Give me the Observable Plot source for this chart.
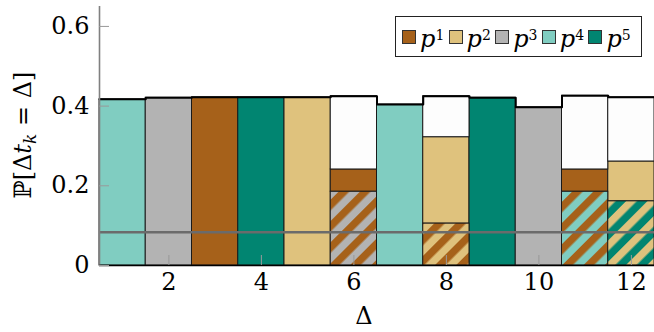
<!DOCTYPE html>
<html>
<head>
<meta charset="utf-8">
<script src="https://cdn.jsdelivr.net/npm/d3@7"></script>
<script src="https://cdn.jsdelivr.net/npm/@observablehq/plot@0.6"></script>
<style>
  body { margin: 0; background: #fff; }
  #wrap { position: relative; width: 654px; height: 332px; font-family: 'DejaVu Serif', serif; }
  #wrap svg { position: absolute; left: 0; top: 0; }
  #wrap svg text, #wrap svg tspan { font-family: 'DejaVu Serif', serif; }
  #legend { position: absolute; left: 395px; top: 16px; width: 247px; height: 41px; box-sizing: border-box;
            border: 1px solid #222; background: #fff; display: flex; align-items: center; padding-left: 6px; }
  .item { display: flex; align-items: center; width: 46.6px; flex: none; }
  .sw { width: 12px; height: 12px; border: 1px solid #333; margin-right: 4px; flex: none; }
  .lab { font-size: 24px; line-height: 26px; height: 26px; white-space: nowrap; position: relative; top: -2px;
         font-family: 'DejaVu Serif', serif; }
  .lab i { font-style: italic; }
  .lab span { font-size: 14px; vertical-align: 7px; }
</style>
</head>
<body>
<div id="wrap"><div id="legend"></div></div>
<script>
// ---- data ----
const delta = [1, 2, 3, 4, 5, 6, 7, 8, 9, 10, 11, 12];
const total = [0.417, 0.421, 0.422, 0.422, 0.422, 0.425, 0.404, 0.425, 0.421, 0.397, 0.426, 0.422];
const solidPolicy = ["p4", "p3", "p1", "p5", "p2", "p1", "p4", "p2", "p5", "p3", "p1", "p2"];
const solidTop = [0.417, 0.421, 0.422, 0.422, 0.422, 0.241, 0.404, 0.322, 0.421, 0.397, 0.241, 0.261];
const hatchTop = [0, 0, 0, 0, 0, 0.185, 0, 0.105, 0, 0, 0.185, 0.161];
const hatchStripe = [null, null, null, null, null, "p1", null, "p1", null, null, "p1", "p2"];
const hatchBase = [null, null, null, null, null, "p3", null, "p2", null, null, "p4", "p5"];
const policies = ["p1", "p2", "p3", "p4", "p5"];
const policyColors = ["#a6611a", "#dfc27d", "#b3b3b3", "#80cdc1", "#018571"];
const uniformLevel = 1 / 12;
const xTicks = [2, 4, 6, 8, 10, 12];
const yTicks = [0, 0.2, 0.4, 0.6];

// ---- derived tables ----
const colorOf = Object.fromEntries(policies.map((p, i) => [p, policyColors[i]]));
const solid = delta.map((d, i) => ({x1: d - 0.5, x2: d + 0.5, y1: hatchTop[i], y2: solidTop[i], fill: colorOf[solidPolicy[i]]}));
const blank = delta.map((d, i) => ({x1: d - 0.5, x2: d + 0.5, y1: solidTop[i], y2: total[i]}))
  .filter(d => d.y2 - d.y1 > 0.002);
const hatch = delta.map((d, i) => ({x1: d - 0.5, x2: d + 0.5, y1: 0, y2: hatchTop[i],
  stripe: hatchStripe[i], base: hatchBase[i], id: `hatch-${hatchStripe[i]}-${hatchBase[i]}`}))
  .filter(d => d.y2 > 0);
const hatchIds = [...new Set(hatch.map(d => d.id))];
const steps = delta.flatMap((d, i) => [{x: d - 0.5, y: total[i]}, {x: d + 0.5, y: total[i]}]);

const rectOpts = {x1: "x1", x2: "x2", y1: "y1", y2: "y2", stroke: "#1a1a1a", strokeWidth: 1};
const serif = "'DejaVu Serif', serif";

const chart = Plot.plot({
  width: 654,
  height: 332,
  marginLeft: 99,
  marginRight: 0,
  marginTop: 6,
  marginBottom: 67,
  style: {fontFamily: serif, fontSize: "24px", background: "transparent", color: "black"},
  x: {domain: [0.5, 12.5]},
  y: {domain: [0, 0.65]},
  marks: [
    Plot.rect(solid, {...rectOpts, fill: "fill"}),
    Plot.rect(blank, {...rectOpts, fill: "#fdfdfd"}),
    ...hatchIds.map(id => Plot.rect(hatch.filter(d => d.id === id), {...rectOpts, fill: `url(#${id})`})),
    Plot.ruleY([uniformLevel], {stroke: "#6b6b6b", strokeWidth: 2.5}),
    Plot.line(steps, {x: "x", y: "y", stroke: "black", strokeWidth: 2}),
    Plot.ruleX([0.5], {stroke: "#808080", strokeWidth: 1.6}),
    Plot.ruleY([0], {stroke: "black", strokeWidth: 1.5}),
    Plot.axisX(xTicks, {tickSize: 10, dy: -10, tickPadding: 7, stroke: "#999", fill: "black", label: null}),
    Plot.axisY(yTicks, {tickSize: 10, dx: 10, tickPadding: 10, stroke: "#999", fill: "black", label: null,
      tickFormat: d => d === 0 ? "0" : d3.format(".1f")(d)}),
    Plot.text(["Δ"], {text: d => d, frameAnchor: "bottom", dx: -13, dy: 51, lineAnchor: "middle", fontSize: 24})
  ]
});

const svg = d3.select(chart);
svg.attr("font-family", serif);
const defs = svg.insert("defs", ":first-child");
for (const h of hatch) {
  if (!defs.select(`#${h.id}`).empty()) continue;
  const pat = defs.append("pattern").attr("id", h.id).attr("patternUnits", "userSpaceOnUse")
    .attr("width", 15).attr("height", 15).attr("patternTransform", "rotate(45)");
  pat.append("rect").attr("width", 15).attr("height", 15).attr("fill", colorOf[h.base]);
  pat.append("rect").attr("width", 7.5).attr("height", 15).attr("fill", colorOf[h.stripe]);
}

// y-axis label with math styling
const yl = svg.append("text").attr("transform", "translate(31,135) rotate(-90)")
  .attr("text-anchor", "middle").attr("font-size", 24).attr("fill", "black");
yl.append("tspan").text("ℙ[Δ");
yl.append("tspan").attr("font-style", "italic").text("t");
yl.append("tspan").attr("font-style", "italic").attr("font-size", 17).attr("dy", 5).text("k");
yl.append("tspan").attr("dy", -5).text(" = Δ]");

const wrap = document.getElementById("wrap");
wrap.insertBefore(chart, wrap.firstChild);

// legend
const legend = d3.select("#legend");
policies.forEach((p, i) => {
  const item = legend.append("div").attr("class", "item");
  item.append("div").attr("class", "sw").style("background", policyColors[i]);
  const lab = item.append("div").attr("class", "lab");
  lab.append("i").text("p");
  lab.append("span").text(p.slice(1));
});
</script>
</body>
</html>
